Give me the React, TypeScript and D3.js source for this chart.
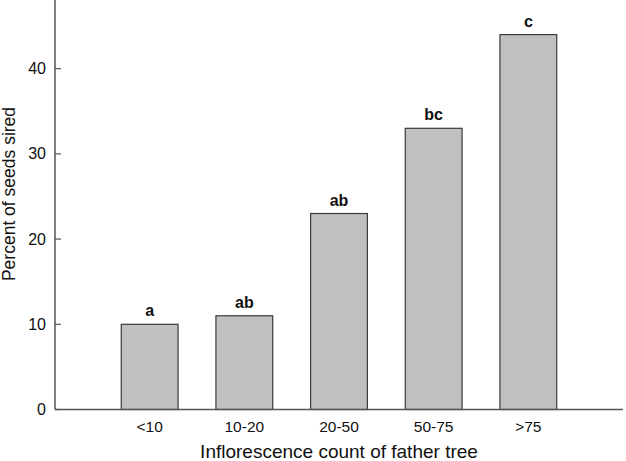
import React, { useEffect, useRef } from "react";
import * as d3 from "d3";

const categories = ["<10", "10-20", "20-50", "50-75", ">75"];
const percentSired = [10, 11, 23, 33, 44];
const groupLetters = ["a", "ab", "ab", "bc", "c"];
const yTicks = [0, 10, 20, 30, 40];

const App = () => {
  const svgRef = useRef<SVGSVGElement>(null);

  useEffect(() => {
    const width = 626;
    const height = 461;
    const left = 55;
    const right = 623;
    const top = 0.5;
    const bottom = 409.5;
    const font = "Arial, 'Liberation Sans', Helvetica, sans-serif";

    const svg = d3.select(svgRef.current);
    svg.selectAll("*").remove();
    svg.attr("width", width).attr("height", height);

    // x: slots 0..6, bars sit on 1..5
    const x = d3.scaleLinear().domain([0, categories.length + 1]).range([left, right]);
    const y = d3.scaleLinear().domain([0, 48]).range([bottom, top]);
    const barW = (x(1) - x(0)) * 0.6;

    // bars
    svg
      .selectAll("rect.bar")
      .data(percentSired)
      .enter()
      .append("rect")
      .attr("class", "bar")
      .attr("x", (d, i) => x(i + 1) - barW / 2)
      .attr("y", (d) => y(d))
      .attr("width", barW)
      .attr("height", (d) => y(0) - y(d))
      .attr("fill", "#c0c0c0")
      .attr("stroke", "#3a3a3a")
      .attr("stroke-width", 1.2);

    // letters above bars
    svg
      .selectAll("text.letter")
      .data(percentSired)
      .enter()
      .append("text")
      .attr("class", "letter")
      .attr("x", (d, i) => x(i + 1))
      .attr("y", (d) => y(d) - 8)
      .attr("text-anchor", "middle")
      .attr("font-family", font)
      .attr("font-weight", "bold")
      .attr("font-size", "16px")
      .attr("fill", "#111")
      .text((d, i) => groupLetters[i]);

    // axes lines
    svg
      .append("line")
      .attr("x1", left)
      .attr("x2", left)
      .attr("y1", 0)
      .attr("y2", bottom)
      .attr("stroke", "#555")
      .attr("stroke-width", 1.5);
    svg
      .append("line")
      .attr("x1", left)
      .attr("x2", right)
      .attr("y1", bottom)
      .attr("y2", bottom)
      .attr("stroke", "#555")
      .attr("stroke-width", 1.5);

    // y ticks (inward)
    const yt = svg.append("g");
    yTicks.forEach((t) => {
      yt.append("line")
        .attr("x1", left)
        .attr("x2", left + 6)
        .attr("y1", y(t))
        .attr("y2", y(t))
        .attr("stroke", "#555")
        .attr("stroke-width", 1.2);
      yt.append("text")
        .attr("x", left - 9)
        .attr("y", y(t))
        .attr("dy", "0.35em")
        .attr("text-anchor", "end")
        .attr("font-family", font)
        .attr("font-size", "16px")
        .attr("fill", "#111")
        .text(t);
    });

    // x tick labels
    svg
      .selectAll("text.xlab")
      .data(categories)
      .enter()
      .append("text")
      .attr("class", "xlab")
      .attr("x", (d, i) => x(i + 1))
      .attr("y", 427)
      .attr("dy", "0.35em")
      .attr("text-anchor", "middle")
      .attr("font-family", font)
      .attr("font-size", "15.5px")
      .attr("fill", "#111")
      .text((d) => d);

    // axis titles
    svg
      .append("text")
      .attr("x", 339)
      .attr("y", 458)
      .attr("text-anchor", "middle")
      .attr("font-family", font)
      .attr("font-size", "19px")
      .attr("fill", "#111")
      .text("Inflorescence count of father tree");

    svg
      .append("text")
      .attr("transform", `translate(9, 194) rotate(-90)`)
      .attr("dy", "0.35em")
      .attr("text-anchor", "middle")
      .attr("font-family", font)
      .attr("font-size", "17.5px")
      .attr("fill", "#111")
      .text("Percent of seeds sired");
  }, []);

  return (
    <div style={{ position: "absolute", left: 0, top: 0 }}>
      <svg ref={svgRef} style={{ display: "block" }}></svg>
    </div>
  );
};

export default App;
